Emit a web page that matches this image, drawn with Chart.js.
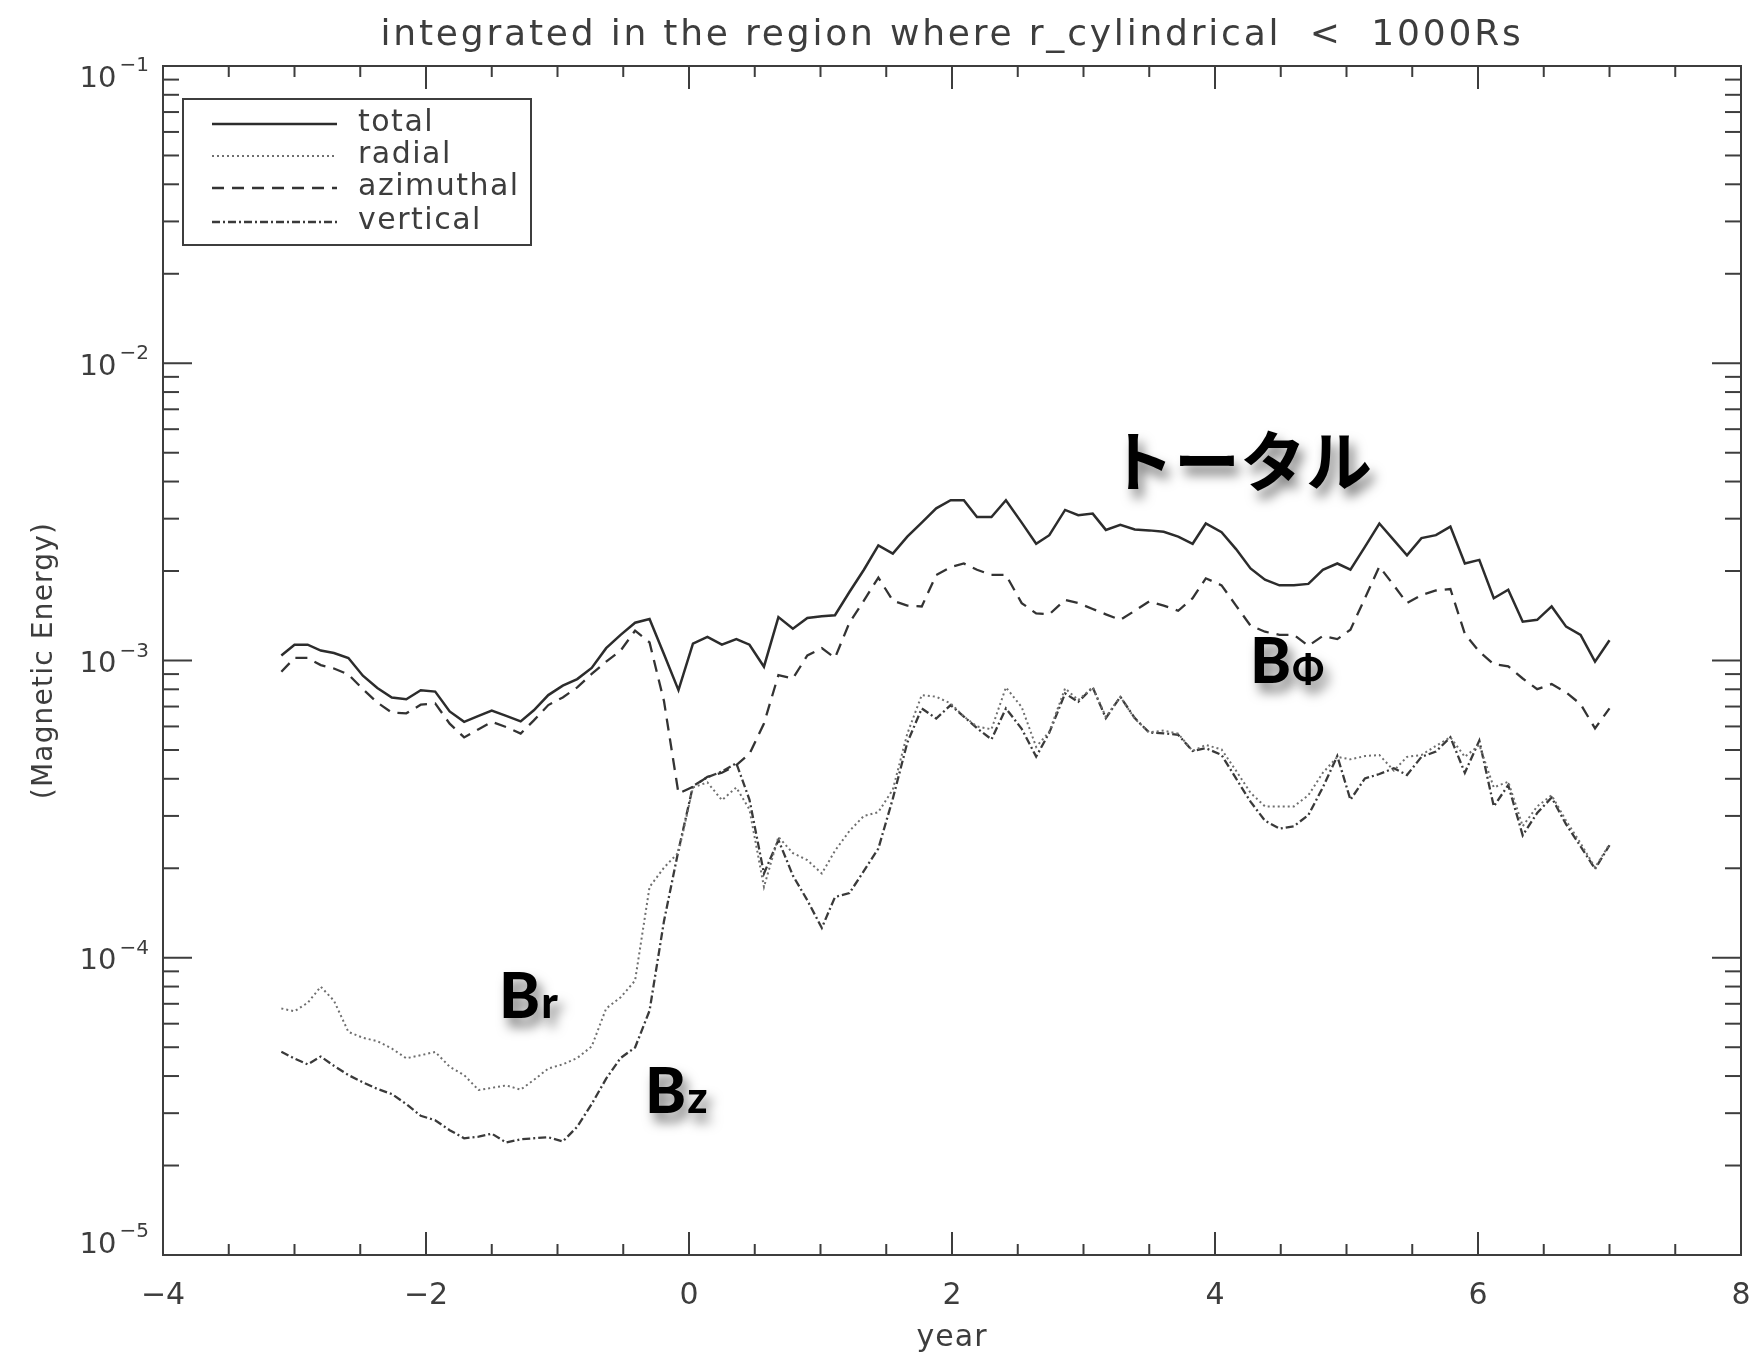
<!DOCTYPE html>
<html>
<head>
<meta charset="utf-8">
<title>Magnetic Energy</title>
<script src="https://cdn.jsdelivr.net/npm/chart.js@4.4.1/dist/chart.umd.min.js"></script>
<style>
  html, body { margin: 0; padding: 0; background: #fff; }
  #wrap { width: 1751px; height: 1357px; position: relative; }
</style>
</head>
<body>
<div id="wrap"><canvas id="myChart"></canvas></div>
<script>
const years = [
  -3.10, -3.00, -2.90, -2.80, -2.70, -2.59, -2.48, -2.37, -2.26, -2.15,
  -2.04, -1.93, -1.82, -1.71, -1.60, -1.50, -1.39, -1.28, -1.18, -1.07,
  -0.96, -0.85, -0.74, -0.63, -0.52, -0.41, -0.30, -0.19, -0.08, 0.03,
  0.14, 0.25, 0.36, 0.46, 0.57, 0.68, 0.79, 0.90, 1.01, 1.11,
  1.22, 1.33, 1.44, 1.55, 1.66, 1.77, 1.88, 1.99, 2.09, 2.19,
  2.30, 2.41, 2.53, 2.64, 2.74, 2.86, 2.96, 3.07, 3.17, 3.28,
  3.39, 3.50, 3.61, 3.72, 3.83, 3.93, 4.05, 4.16, 4.27, 4.38,
  4.49, 4.60, 4.71, 4.82, 4.93, 5.03, 5.14, 5.25, 5.36, 5.46,
  5.57, 5.68, 5.79, 5.90, 6.01, 6.12, 6.23, 6.34, 6.45, 6.56,
  6.67, 6.78, 6.89, 7.00
];

const total = [
  1.04e-3, 1.13e-3, 1.13e-3, 1.08e-3, 1.06e-3, 1.02e-3, 8.89e-4, 8.08e-4, 7.51e-4, 7.41e-4,
  7.94e-4, 7.86e-4, 6.74e-4, 6.22e-4, 6.51e-4, 6.78e-4, 6.51e-4, 6.24e-4, 6.80e-4, 7.65e-4,
  8.23e-4, 8.66e-4, 9.44e-4, 1.10e-3, 1.22e-3, 1.34e-3, 1.38e-3, 1.05e-3, 7.95e-4, 1.14e-3,
  1.20e-3, 1.13e-3, 1.18e-3, 1.13e-3, 9.53e-4, 1.40e-3, 1.28e-3, 1.39e-3, 1.41e-3, 1.42e-3,
  1.70e-3, 2.02e-3, 2.44e-3, 2.29e-3, 2.61e-3, 2.91e-3, 3.25e-3, 3.46e-3, 3.46e-3, 3.04e-3,
  3.04e-3, 3.46e-3, 2.91e-3, 2.47e-3, 2.64e-3, 3.21e-3, 3.08e-3, 3.12e-3, 2.75e-3, 2.86e-3,
  2.76e-3, 2.74e-3, 2.71e-3, 2.61e-3, 2.47e-3, 2.89e-3, 2.70e-3, 2.37e-3, 2.04e-3, 1.87e-3,
  1.79e-3, 1.79e-3, 1.81e-3, 2.02e-3, 2.12e-3, 2.02e-3, 2.41e-3, 2.89e-3, 2.54e-3, 2.26e-3,
  2.58e-3, 2.64e-3, 2.82e-3, 2.12e-3, 2.18e-3, 1.62e-3, 1.73e-3, 1.35e-3, 1.37e-3, 1.52e-3,
  1.30e-3, 1.22e-3, 9.91e-4, 1.17e-3
];

const radial = [
  6.75e-5, 6.61e-5, 7.05e-5, 7.99e-5, 7.17e-5, 5.63e-5, 5.38e-5, 5.24e-5, 4.95e-5, 4.59e-5,
  4.70e-5, 4.82e-5, 4.30e-5, 4.03e-5, 3.59e-5, 3.65e-5, 3.72e-5, 3.60e-5, 3.88e-5, 4.24e-5,
  4.38e-5, 4.60e-5, 5.03e-5, 6.75e-5, 7.36e-5, 8.38e-5, 1.73e-4, 2.01e-4, 2.26e-4, 3.74e-4,
  3.89e-4, 3.39e-4, 3.74e-4, 3.15e-4, 1.73e-4, 2.55e-4, 2.25e-4, 2.13e-4, 1.92e-4, 2.29e-4,
  2.67e-4, 3.00e-4, 3.09e-4, 3.68e-4, 5.67e-4, 7.65e-4, 7.55e-4, 7.17e-4, 6.48e-4, 6.00e-4,
  5.87e-4, 8.12e-4, 6.97e-4, 5.12e-4, 5.76e-4, 8.06e-4, 7.36e-4, 8.12e-4, 6.46e-4, 7.55e-4,
  6.37e-4, 5.73e-4, 5.81e-4, 5.67e-4, 4.96e-4, 5.20e-4, 5.02e-4, 4.26e-4, 3.59e-4, 3.23e-4,
  3.23e-4, 3.23e-4, 3.52e-4, 4.19e-4, 4.74e-4, 4.65e-4, 4.77e-4, 4.81e-4, 4.26e-4, 4.74e-4,
  4.81e-4, 5.16e-4, 5.52e-4, 4.74e-4, 5.20e-4, 3.74e-4, 3.91e-4, 2.77e-4, 3.23e-4, 3.52e-4,
  2.89e-4, 2.43e-4, 2.01e-4, 2.41e-4
];

const azimuthal = [
  9.16e-4, 1.02e-3, 1.02e-3, 9.65e-4, 9.40e-4, 8.97e-4, 8.01e-4, 7.22e-4, 6.68e-4, 6.64e-4,
  7.10e-4, 7.17e-4, 6.13e-4, 5.51e-4, 5.87e-4, 6.22e-4, 5.97e-4, 5.68e-4, 6.29e-4, 7.08e-4,
  7.51e-4, 8.12e-4, 9.01e-4, 9.91e-4, 1.08e-3, 1.26e-3, 1.15e-3, 7.29e-4, 3.57e-4, 3.76e-4,
  4.06e-4, 4.19e-4, 4.45e-4, 4.85e-4, 6.14e-4, 8.93e-4, 8.70e-4, 1.04e-3, 1.10e-3, 1.02e-3,
  1.34e-3, 1.59e-3, 1.90e-3, 1.59e-3, 1.53e-3, 1.52e-3, 1.94e-3, 2.06e-3, 2.12e-3, 2.02e-3,
  1.94e-3, 1.94e-3, 1.56e-3, 1.44e-3, 1.43e-3, 1.60e-3, 1.56e-3, 1.49e-3, 1.43e-3, 1.37e-3,
  1.47e-3, 1.58e-3, 1.53e-3, 1.47e-3, 1.62e-3, 1.89e-3, 1.79e-3, 1.53e-3, 1.31e-3, 1.25e-3,
  1.22e-3, 1.22e-3, 1.12e-3, 1.21e-3, 1.18e-3, 1.27e-3, 1.62e-3, 2.07e-3, 1.79e-3, 1.56e-3,
  1.66e-3, 1.72e-3, 1.74e-3, 1.23e-3, 1.07e-3, 9.72e-4, 9.56e-4, 8.70e-4, 8.01e-4, 8.33e-4,
  7.81e-4, 7.13e-4, 5.91e-4, 6.90e-4
];

const vertical = [
  4.83e-5, 4.58e-5, 4.38e-5, 4.65e-5, 4.33e-5, 4.03e-5, 3.81e-5, 3.62e-5, 3.48e-5, 3.22e-5,
  2.94e-5, 2.84e-5, 2.63e-5, 2.47e-5, 2.50e-5, 2.56e-5, 2.39e-5, 2.45e-5, 2.47e-5, 2.49e-5,
  2.41e-5, 2.70e-5, 3.22e-5, 3.92e-5, 4.60e-5, 4.99e-5, 6.64e-5, 1.33e-4, 2.30e-4, 3.78e-4,
  4.05e-4, 4.23e-4, 4.51e-4, 3.40e-4, 1.92e-4, 2.49e-4, 1.89e-4, 1.56e-4, 1.26e-4, 1.60e-4,
  1.65e-4, 1.96e-4, 2.33e-4, 3.43e-4, 5.29e-4, 6.90e-4, 6.38e-4, 7.08e-4, 6.48e-4, 5.92e-4,
  5.43e-4, 6.90e-4, 5.89e-4, 4.75e-4, 5.72e-4, 7.75e-4, 7.26e-4, 8.12e-4, 6.40e-4, 7.55e-4,
  6.40e-4, 5.72e-4, 5.69e-4, 5.62e-4, 4.96e-4, 5.07e-4, 4.81e-4, 4.01e-4, 3.35e-4, 2.89e-4,
  2.72e-4, 2.77e-4, 3.02e-4, 3.74e-4, 4.77e-4, 3.40e-4, 4.01e-4, 4.15e-4, 4.34e-4, 4.12e-4,
  4.74e-4, 4.94e-4, 5.52e-4, 4.19e-4, 5.38e-4, 3.23e-4, 3.81e-4, 2.58e-4, 3.07e-4, 3.46e-4,
  2.81e-4, 2.37e-4, 1.99e-4, 2.39e-4
];

const xTicks = [-4, -2, 0, 2, 4, 6, 8];
const yDecades = [-5, -4, -3, -2, -1];

const titleText = "integrated in the region where r_cylindrical  <  1000Rs";
const xTitle = "year";
const yTitle = "(Magnetic Energy)";

const ink = "#3d3d3d";
const plotFont = "'DejaVu Sans', sans-serif";
const markFont = "Lato, 'Noto Sans', sans-serif";

function toPoints(values) {
  return years.map((t, i) => ({ x: t, y: values[i] }));
}

function seg(ctx, x1, y1, x2, y2) {
  ctx.beginPath();
  ctx.moveTo(x1, y1);
  ctx.lineTo(x2, y2);
  ctx.stroke();
}

// box, inward ticks, labels, legend and the hand-placed component names
const frame = {
  id: "frame",
  afterDatasetsDraw(chart) {
    const { ctx, chartArea: a, scales: { x, y } } = chart;
    ctx.save();
    ctx.strokeStyle = ink;
    ctx.fillStyle = ink;
    ctx.lineWidth = 2;
    ctx.setLineDash([]);
    ctx.strokeRect(a.left, a.top, a.right - a.left, a.bottom - a.top);

    for (let v = x.min; v <= x.max; v += 0.5) {
      const px = x.getPixelForValue(v);
      const len = v % 2 === 0 ? 23 : 11;
      seg(ctx, px, a.bottom, px, a.bottom - len);
      seg(ctx, px, a.top, px, a.top + len);
    }

    for (const d of yDecades) {
      for (let m = 1; m <= 9; m++) {
        const v = m * Math.pow(10, d);
        if (v > y.max * 1.0001) break;
        const py = y.getPixelForValue(v);
        const len = m === 1 ? 29 : 16;
        seg(ctx, a.left, py, a.left + len, py);
        seg(ctx, a.right, py, a.right - len, py);
      }
    }

    // x tick labels
    ctx.font = "30px " + plotFont;
    ctx.textAlign = "center";
    ctx.textBaseline = "middle";
    for (const v of xTicks) {
      const label = v < 0 ? "\u2212" + Math.abs(v) : String(v);
      ctx.fillText(label, x.getPixelForValue(v), a.bottom + 41);
    }

    // y tick labels as 10^n
    for (const d of yDecades) {
      let py = y.getPixelForValue(Math.pow(10, d)) + 4;
      if (d === yDecades[yDecades.length - 1]) py += 9;
      if (d === yDecades[0]) py -= 14;
      const right = a.left - 14;
      ctx.textAlign = "right";
      ctx.textBaseline = "middle";
      ctx.font = "20px " + plotFont;
      const exp = "\u2212" + Math.abs(d);
      ctx.fillText(exp, right, py - 13);
      const ew = ctx.measureText(exp).width;
      ctx.font = "29px " + plotFont;
      ctx.fillText("10", right - ew - 3, py);
    }

    // titles
    ctx.textAlign = "center";
    ctx.textBaseline = "middle";
    ctx.font = "36px " + plotFont;
    ctx.letterSpacing = "2.8px";
    ctx.fillText(titleText, (a.left + a.right) / 2, 36);
    ctx.font = "30px " + plotFont;
    ctx.letterSpacing = "1px";
    ctx.fillText(xTitle, (a.left + a.right) / 2, 1338);
    ctx.save();
    ctx.translate(45, (a.top + a.bottom) / 2);
    ctx.rotate(-Math.PI / 2);
    ctx.font = "28px " + plotFont;
    ctx.letterSpacing = "1.2px";
    ctx.fillText(yTitle, 0, 0);
    ctx.restore();

    // legend
    ctx.lineWidth = 2;
    ctx.strokeRect(183, 99, 348, 146);
    const rows = [124, 156, 188, 222];
    ctx.textAlign = "left";
    ctx.font = "30px " + plotFont;
    ctx.letterSpacing = "1.5px";
    chart.data.datasets.forEach((ds, i) => {
      ctx.save();
      ctx.strokeStyle = ds.borderColor;
      ctx.lineWidth = ds.borderWidth;
      ctx.setLineDash(ds.borderDash || []);
      seg(ctx, 212, rows[i], 337, rows[i]);
      ctx.restore();
      ctx.fillText(ds.label, 358, rows[i] - 1);
    });
    ctx.letterSpacing = "0px";

    // component names
    ctx.fillStyle = "#000";
    ctx.shadowColor = "rgba(0,0,0,0.5)";
    ctx.shadowBlur = 12;
    ctx.shadowOffsetX = 5;
    ctx.shadowOffsetY = 9;
    ctx.textBaseline = "alphabetic";
    ctx.font = "bold 66px 'Noto Sans CJK JP', sans-serif";
    ctx.fillText("トータル", 1108, 486);

    const names = [
      { base: "B", sub: "r", x: 499, y: 1018, sub2: 44 },
      { base: "B", sub: "z", x: 645, y: 1113, sub2: 44 },
      { base: "B", sub: "\u03A6", x: 1250, y: 683, sub2: 37 }
    ];
    for (const n of names) {
      ctx.font = "900 62px " + markFont;
      ctx.fillText(n.base, n.x, n.y);
      const bw = ctx.measureText(n.base).width;
      ctx.font = "900 " + n.sub2 + "px " + markFont;
      ctx.fillText(n.sub, n.x + bw + 1, n.y);
    }
    ctx.restore();
  }
};

const ctx = document.getElementById("myChart");

new Chart(ctx, {
  type: "line",
  data: {
    datasets: [
      { label: "total", data: toPoints(total), borderColor: "#2c2c2c", borderWidth: 2.5, borderDash: [] },
      { label: "radial", data: toPoints(radial), borderColor: "#6f6f6f", borderWidth: 2, borderDash: [2, 3] },
      { label: "azimuthal", data: toPoints(azimuthal), borderColor: "#333", borderWidth: 2.3, borderDash: [12, 8] },
      { label: "vertical", data: toPoints(vertical), borderColor: "#3a3a3a", borderWidth: 2.3, borderDash: [8, 3, 2, 3] }
    ]
  },
  options: {
    responsive: true,
    maintainAspectRatio: false,
    animation: false,
    devicePixelRatio: 1,
    layout: { padding: { left: 163, right: 10, top: 66, bottom: 102 } },
    elements: { point: { radius: 0 }, line: { tension: 0, fill: false } },
    plugins: {
      legend: { display: false },
      tooltip: { enabled: false },
      title: { display: false }
    },
    scales: {
      x: { type: "linear", min: -4, max: 8, display: false },
      y: { type: "logarithmic", min: 1e-5, max: 1e-1, display: false }
    }
  },
  plugins: [frame]
});
</script>
</body>
</html>
